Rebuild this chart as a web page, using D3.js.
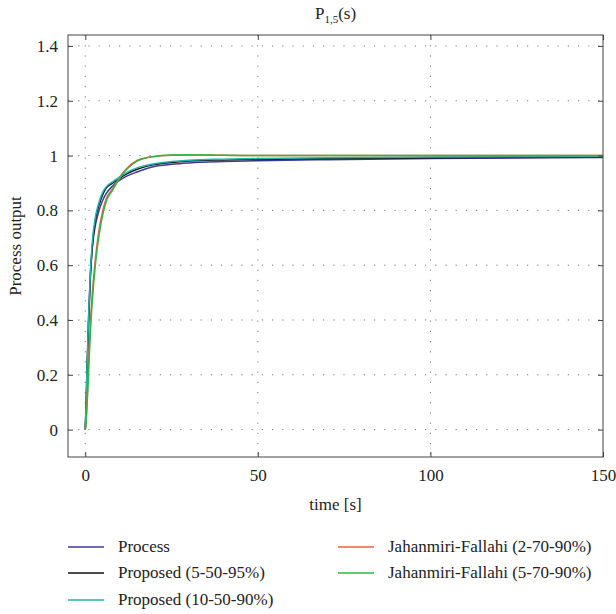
<!DOCTYPE html>
<html>
<head>
<meta charset="utf-8">
<script src="https://cdn.jsdelivr.net/npm/d3@7"></script>
<style>
  body { margin: 0; background: #fff; }
  svg text { font-family: "Liberation Serif", "Times New Roman", "DejaVu Serif", serif; fill: #222; }
</style>
</head>
<body>
<div id="chart"></div>
<script>
// time points (s)
var time = [0, 0.25, 0.5, 1, 1.5, 2, 3, 4, 5, 6, 8, 10, 12, 15, 20, 25, 30, 40, 50, 70, 100, 150];

// responses
var process     = [0, 0.10, 0.22, 0.42, 0.57, 0.66, 0.75, 0.80, 0.835, 0.86, 0.89, 0.91, 0.925, 0.94, 0.96, 0.968, 0.973, 0.978, 0.981, 0.985, 0.989, 0.993];
var proposed5   = [0, 0.08, 0.20, 0.40, 0.56, 0.66, 0.77, 0.82, 0.855, 0.88, 0.90, 0.918, 0.933, 0.95, 0.967, 0.975, 0.98, 0.984, 0.986, 0.989, 0.992, 0.995];
var proposed10  = [0, 0.09, 0.22, 0.43, 0.58, 0.68, 0.78, 0.83, 0.865, 0.885, 0.905, 0.922, 0.938, 0.955, 0.97, 0.978, 0.983, 0.987, 0.989, 0.992, 0.995, 0.997];
var jf2         = [0, 0.04, 0.10, 0.25, 0.39, 0.49, 0.63, 0.73, 0.795, 0.84, 0.88, 0.922, 0.953, 0.982, 0.997, 1.001, 1.002, 1.001, 1.0, 1.0, 1.0, 1.0];
var jf5         = [0, 0.03, 0.08, 0.22, 0.36, 0.46, 0.61, 0.71, 0.78, 0.83, 0.875, 0.918, 0.95, 0.98, 0.997, 1.002, 1.003, 1.001, 1.0, 1.0, 1.0, 1.0];

var seriesNames = ["Process", "Proposed (5-50-95%)", "Proposed (10-50-90%)", "Jahanmiri-Fallahi (2-70-90%)", "Jahanmiri-Fallahi (5-70-90%)"];
var seriesValues = [process, proposed5, proposed10, jf2, jf5];
var colors = ["#3d3a98", "#111111", "#1fb5ae", "#ec6040", "#2bb845"];

var xTicks = [0, 50, 100, 150];
var yTicks = [0, 0.2, 0.4, 0.6, 0.8, 1, 1.2, 1.4];

var margin = { top: 35, right: 13, bottom: 157, left: 68 },
  width = 616 - margin.left - margin.right,
  height = 614 - margin.top - margin.bottom;

var svg = d3.select("#chart")
  .append("svg")
  .attr("width", 616)
  .attr("height", 614);

var g = svg.append("g")
  .attr("transform", "translate(" + margin.left + "," + margin.top + ")");

var x = d3.scaleLinear().domain([-5, 150]).range([0, width]);
var y = d3.scaleLinear().domain([-0.1, 1.44]).range([height, 0]);

// dotted grid
g.selectAll(".hgrid")
  .data(yTicks)
  .enter()
  .append("line")
  .attr("x1", 0).attr("x2", width)
  .attr("y1", function (d) { return y(d) })
  .attr("y2", function (d) { return y(d) })
  .attr("stroke", "#777")
  .attr("stroke-width", 1)
  .attr("stroke-dasharray", "1.2,9");

g.selectAll(".vgrid")
  .data(xTicks.slice(0, 3))
  .enter()
  .append("line")
  .attr("y1", 0).attr("y2", height)
  .attr("x1", function (d) { return x(d) })
  .attr("x2", function (d) { return x(d) })
  .attr("stroke", "#777")
  .attr("stroke-width", 1)
  .attr("stroke-dasharray", "1.2,9");

// lines
var line = d3.line()
  .x(function (d) { return x(d[0]) })
  .y(function (d) { return y(d[1]) })
  .curve(d3.curveMonotoneX);

seriesValues.forEach(function (vals, i) {
  g.append("path")
    .datum(time.map(function (t, j) { return [t, vals[j]] }))
    .attr("fill", "none")
    .attr("stroke", colors[i])
    .attr("stroke-width", 1.5)
    .attr("d", line);
});

// axes (ticks pointing in, mirrored on all sides)
g.append("g")
  .attr("transform", "translate(0," + height + ")")
  .call(d3.axisBottom(x).tickValues(xTicks).tickSize(-5).tickPadding(12).tickFormat(d3.format("d")))
  .call(function (a) { a.select(".domain").remove() });

g.append("g")
  .call(d3.axisTop(x).tickValues(xTicks).tickSize(-5).tickFormat(""))
  .call(function (a) { a.select(".domain").remove() });

g.append("g")
  .call(d3.axisLeft(y).tickValues(yTicks).tickSize(-5).tickPadding(10).tickFormat(function (d) { return d3.format("~g")(d) }))
  .call(function (a) { a.select(".domain").remove() });

g.append("g")
  .attr("transform", "translate(" + width + ",0)")
  .call(d3.axisRight(y).tickValues(yTicks).tickSize(-5).tickFormat(""))
  .call(function (a) { a.select(".domain").remove() });

g.selectAll("g").attr("font-family", null).attr("font-size", null);
g.selectAll(".tick line").attr("stroke", "#444");
g.selectAll(".tick text")
  .style("font-size", "17px")
  .attr("fill", "#222");

// frame
g.append("rect")
  .attr("width", width)
  .attr("height", height)
  .attr("fill", "none")
  .attr("stroke", "#444")
  .attr("stroke-width", 1);

// title
var title = svg.append("text")
  .attr("x", margin.left + width / 2)
  .attr("y", 19)
  .attr("text-anchor", "middle")
  .style("font-size", "17px");
title.append("tspan").text("P");
title.append("tspan").attr("dy", 4).style("font-size", "11px").text("1,5");
title.append("tspan").attr("dy", -4).text("(s)");

// axis labels
svg.append("text")
  .attr("x", margin.left + width / 2)
  .attr("y", 510)
  .attr("text-anchor", "middle")
  .style("font-size", "17px")
  .text("time [s]");

svg.append("text")
  .attr("transform", "translate(21," + (margin.top + height / 2) + ") rotate(-90)")
  .attr("text-anchor", "middle")
  .style("font-size", "17px")
  .text("Process output");

// legend
var legendPos = [[68, 547], [68, 573], [68, 600], [338, 547], [338, 573]];
seriesNames.forEach(function (name, i) {
  var p = legendPos[i];
  svg.append("line")
    .attr("x1", p[0]).attr("x2", p[0] + 36)
    .attr("y1", p[1]).attr("y2", p[1])
    .attr("stroke", colors[i])
    .attr("stroke-width", 1.5);
  svg.append("text")
    .attr("x", p[0] + 50)
    .attr("y", p[1] + 5)
    .style("font-size", "17px")
    .text(name);
});
</script>
</body>
</html>
